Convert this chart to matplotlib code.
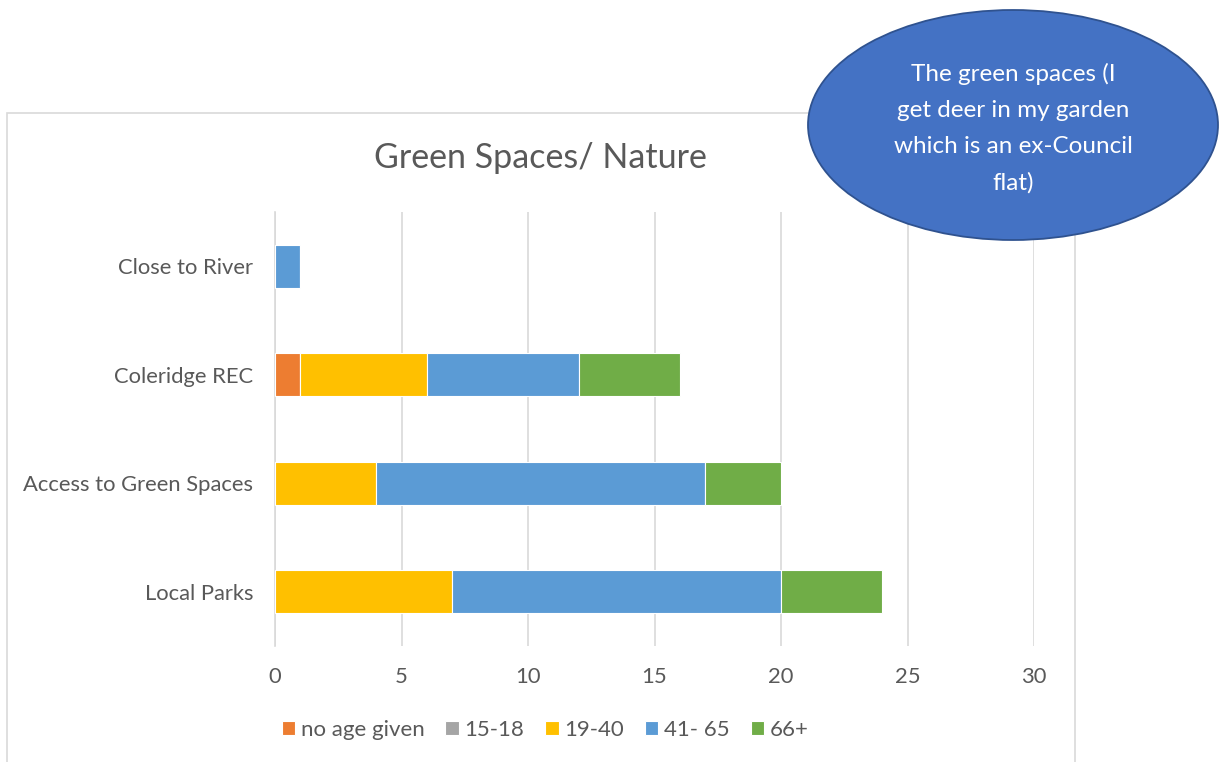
import numpy as np
import matplotlib
matplotlib.use("Agg")
import matplotlib.pyplot as plt
from matplotlib.patches import Ellipse, Rectangle

plt.rcParams['font.family'] = ['Lato', 'DejaVu Sans']

# categories bottom to top
categories = ["Local Parks", "Access to Green Spaces", "Coleridge REC", "Close to River"]
age_groups = ["no age given", "15-18", "19-40", "41- 65", "66+"]
no_age = [0, 0, 1, 0]
age_15_18 = [0, 0, 0, 0]
age_19_40 = [7, 4, 5, 0]
age_41_65 = [13, 13, 6, 1]
age_66 = [4, 3, 4, 0]
series = [no_age, age_15_18, age_19_40, age_41_65, age_66]
colors = ["#ED7D31", "#A5A5A5", "#FFC000", "#5B9BD5", "#70AD47"]
x_ticks = [0, 5, 10, 15, 20, 25, 30]

text_col = "#595959"
grid_col = "#D9D9D9"

fig = plt.figure(figsize=(12.22, 7.62), dpi=100)
fig.patch.set_facecolor("white")

# chart area border
fig.patches.append(Rectangle((7 / 1222, -0.01), (1075 - 7) / 1222, 1 - 113 / 762 + 0.01,
                             transform=fig.transFigure, fill=False,
                             edgecolor=grid_col, linewidth=1.2, zorder=0))

ax = fig.add_axes([275 / 1222, 1 - 646 / 762, (1034 - 275) / 1222, (646 - 212) / 762])

y = np.arange(len(categories))
left = np.zeros(len(categories))
for name, vals, c in zip(age_groups, series, colors):
    ax.barh(y, vals, left=left, height=0.4, color=c, edgecolor="white",
            linewidth=0.8, label=name, zorder=3)
    left += np.array(vals)

ax.set_xlim(0, 30)
ax.set_ylim(-0.5, 3.5)
ax.set_xticks(x_ticks)
ax.set_yticks(y)
ax.set_yticklabels(categories)
ax.xaxis.grid(True, color=grid_col, linewidth=1.2, zorder=0)
ax.set_axisbelow(True)
for s in ["top", "right", "bottom"]:
    ax.spines[s].set_visible(False)
ax.spines["left"].set_color(grid_col)
ax.spines["left"].set_linewidth(1.2)
ax.tick_params(axis="both", length=0, labelsize=15.8, colors=text_col)
ax.tick_params(axis="x", pad=15)
ax.tick_params(axis="y", pad=15.5)

fig.text(540 / 1222, 1 - 158 / 762, "Green Spaces/ Nature", ha="center", va="center",
         fontsize=24.5, color=text_col)

leg = fig.legend(*ax.get_legend_handles_labels(), loc="center",
                 bbox_to_anchor=(545 / 1222, 1 - 730 / 762), ncol=5, frameon=False,
                 fontsize=16, handlelength=0.6, handleheight=0.6,
                 handletextpad=0.25, columnspacing=0.95, labelcolor=text_col)

# callout bubble
ell = Ellipse((1013 / 1222, 1 - 125 / 762), 410 / 1222, 230 / 762,
              transform=fig.transFigure, facecolor="#4472C4",
              edgecolor="#2F528F", linewidth=1.3, zorder=10)
fig.patches.append(ell)
fig.text(1013 / 1222, 1 - 128 / 762,
         "The green spaces (I\nget deer in my garden\nwhich is an ex-Council\nflat)",
         ha="center", va="center", fontsize=17.5, color="white",
         linespacing=1.88, zorder=11)

fig.savefig("out.png", dpi=100)
